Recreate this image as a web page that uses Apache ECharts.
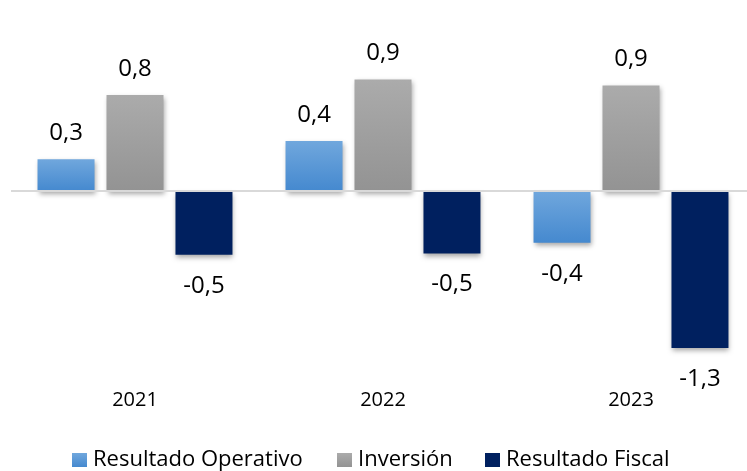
<!DOCTYPE html>
<html>
<head>
<meta charset="utf-8">
<script src="https://cdn.jsdelivr.net/npm/echarts@6/dist/echarts.min.js"></script>
<style>
  html, body { margin: 0; padding: 0; background: #fff; overflow: hidden; }
  #chart { width: 760px; height: 471px; }
</style>
</head>
<body>
<div id="chart"></div>
<script>
// datos
var years = ['2021', '2022', '2023'];
var seriesNames = ['Resultado Operativo', 'Inversión', 'Resultado Fiscal'];
var operativo = [0.26, 0.41, -0.43];
var inversion = [0.79, 0.92, 0.87];
var fiscal = [-0.53, -0.52, -1.30];

var FONT = 'Open Sans';

function grad(top, bottom) {
    return new echarts.graphic.LinearGradient(0, 0, 0, 1, [
        { offset: 0, color: top },
        { offset: 1, color: bottom }
    ]);
}

function fmt(v) {
    return v.toFixed(1).replace('.', ',');
}

// etiqueta arriba si es positivo, abajo si es negativo
function withLabels(arr) {
    return arr.map(function (v) {
        return {
            value: v,
            label: { position: v >= 0 ? 'top' : 'bottom', distance: v >= 0 ? 14 : 19 }
        };
    });
}

var shadow = {
    shadowColor: 'rgba(0,0,0,0.35)',
    shadowBlur: 5,
    shadowOffsetX: 1,
    shadowOffsetY: 3
};

function barSeries(name, arr, color) {
    return {
        name: name,
        type: 'bar',
        barWidth: 57,
        barGap: '21%',
        data: withLabels(arr),
        itemStyle: Object.assign({ color: color }, shadow),
        label: {
            show: true,
            fontFamily: FONT,
            fontSize: 24,
            color: '#000',
            formatter: function (p) { return fmt(p.value); }
        }
    };
}

function legendAt(name, left) {
    return {
        data: [name],
        left: left,
        top: 449,
        padding: 0,
        icon: 'rect',
        itemWidth: 15,
        itemHeight: 14,
        itemGap: 6,
        textStyle: { fontFamily: FONT, fontSize: 22, lineHeight: 22, color: '#000', padding: [0, 0, 0, 1] }
    };
}

var chart = echarts.init(document.getElementById('chart'));

var s1 = barSeries(seriesNames[0], operativo, grad('#70a7dd', '#4589cf'));
s1.markLine = {
    silent: true,
    symbol: 'none',
    label: { show: false },
    lineStyle: { color: '#d9d9d9', width: 2, type: 'solid' },
    data: [{ yAxis: 0 }]
};
var s2 = barSeries(seriesNames[1], inversion, grad('#ababab', '#939393'));
var s3 = barSeries(seriesNames[2], fiscal, '#00205f');

var option = {
    animation: false,
    grid: {
        left: 11,
        top: 45.5,
        width: 744,
        height: 314.6
    },
    legend: [
        legendAt(seriesNames[0], 72),
        legendAt(seriesNames[1], 337),
        legendAt(seriesNames[2], 485)
    ],
    xAxis: {
        type: 'category',
        data: years,
        axisLine: { show: false, onZero: false },
        axisTick: { show: false },
        axisLabel: { margin: 30, fontFamily: FONT, fontSize: 20, color: '#000' }
    },
    yAxis: {
        type: 'value',
        min: -1.4,
        max: 1.2,
        show: false,
        splitLine: { show: false }
    },
    series: [s1, s2, s3]
};

chart.setOption(option);
</script>
</body>
</html>
